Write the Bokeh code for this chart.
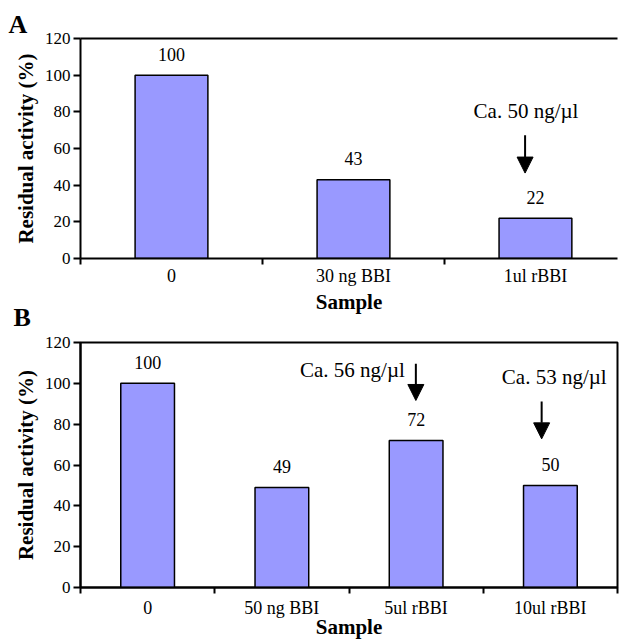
from bokeh.plotting import figure
from bokeh.models import FixedTicker, LinearAxis, Arrow, NormalHead, Range1d, Title
from bokeh.layouts import column
from bokeh.core.properties import value
from bokeh.embed import file_html
from bokeh.resources import INLINE

# ---- data ----
samples_a = ["0", "30 ng BBI", "1ul rBBI"]
activity_a = [100, 43, 22]
samples_b = ["0", "50 ng BBI", "5ul rBBI", "10ul rBBI"]
activity_b = [100, 49, 72, 50]
y_ticks = [0, 20, 40, 60, 80, 100, 120]

notes_a = ["Ca. 50 ng/\u00b5l"]
notes_b = ["Ca. 56 ng/\u00b5l", "Ca. 53 ng/\u00b5l"]

# annotation placement (data coordinates)
note_a_x = [2.448]
note_a_y = [76.4]
note_a_align = ["center"]
arrow_a = [(2.443, 67.2, 46.6)]
note_b_x = [2.416, 3.529]
note_b_y = [103.1, 99.5]
note_b_align = ["right", "center"]
arrow_b = [(2.498, 109.6, 91.6), (3.435, 91.1, 72.8)]

SERIF = "Liberation Serif"
BAR = "#9999FF"


def style(p, samples, tick_standoff, label_standoff):
    n = len(samples)
    centers = [i + 0.5 for i in range(n)]
    p.xgrid.visible = False
    p.ygrid.visible = False
    p.background_fill_color = "white"
    p.border_fill_color = "white"

    xa = p.xaxis[0]
    xa.ticker = FixedTicker(ticks=centers, minor_ticks=list(range(n + 1)))
    xa.major_label_overrides = {c: s for c, s in zip(centers, samples)}
    xa.major_tick_line_color = None
    xa.major_tick_out = 0
    xa.major_tick_in = 0
    xa.minor_tick_out = 6
    xa.minor_tick_in = 0
    xa.minor_tick_line_width = 2
    xa.minor_tick_line_color = "black"
    xa.axis_line_width = 2
    xa.axis_line_color = "black"
    xa.major_label_text_font = SERIF
    xa.major_label_text_font_size = "18px"
    xa.major_label_text_color = "black"
    xa.major_label_standoff = tick_standoff
    xa.axis_label = "Sample"
    xa.axis_label_text_font = SERIF
    xa.axis_label_text_font_style = "bold"
    xa.axis_label_text_font_size = "21px"
    xa.axis_label_text_color = "black"
    xa.axis_label_standoff = label_standoff

    ya = p.yaxis[0]
    ya.ticker = FixedTicker(ticks=y_ticks)
    ya.minor_tick_line_color = None
    ya.major_tick_out = 7
    ya.major_tick_in = 0
    ya.major_tick_line_width = 2
    ya.major_tick_line_color = "black"
    ya.axis_line_width = 2
    ya.axis_line_color = "black"
    ya.major_label_text_font = SERIF
    ya.major_label_text_font_size = "17px"
    ya.major_label_text_color = "black"
    ya.major_label_standoff = 3
    ya.axis_label = "Residual activity (%)"
    ya.axis_label_text_font = SERIF
    ya.axis_label_text_font_style = "bold"
    ya.axis_label_text_font_size = "21px"
    ya.axis_label_text_color = "black"
    ya.axis_label_standoff = 4
    return centers


def add_bars(p, centers, values):
    p.vbar(x=centers, bottom=0, top=values, width=0.4,
           fill_color=BAR, line_color="black", line_width=1.5)
    p.text(x=centers, y=values, text=[str(v) for v in values],
           text_align="center", text_baseline="alphabetic", y_offset=-21,
           text_font=value(SERIF), text_font_size="18px", text_color="black")


def add_notes(p, xs, ys, texts, aligns, arrows):
    for x, y, t, a in zip(xs, ys, texts, aligns):
        p.text(x=[x], y=[y], text=[t], text_align=a, text_baseline="alphabetic",
               y_offset=-7,
               text_font=value(SERIF), text_font_size="21px", text_color="black")
    for x, y0, y1 in arrows:
        p.add_layout(Arrow(end=NormalHead(size=16, fill_color="black", line_color="black"),
                           x_start=x, y_start=y0, x_end=x, y_end=y1,
                           line_width=2, line_color="black"))


def letter(p, text, offset, side, standoff, valign):
    t = Title(text=text, align="left", offset=offset, standoff=standoff,
              vertical_align=valign,
              text_font=SERIF, text_font_style="bold", text_font_size="26px",
              text_color="black")
    p.add_layout(t, side)


# ---- panel A (also carries the "B" panel letter below its axis) ----
pa = figure(width=620, height=331, output_backend="svg", toolbar_location=None,
            x_range=Range1d(0, 540 / 183), y_range=Range1d(0, 120),
            min_border_left=80, min_border_right=0, min_border_top=38, min_border_bottom=73)
pa.title.visible = False
pa.outline_line_color = None
ca = style(pa, samples_a, 1, 1)
add_bars(pa, ca, activity_a)
add_notes(pa, note_a_x, note_a_y, notes_a, note_a_align, arrow_a)
top = LinearAxis(ticker=FixedTicker(ticks=[]), major_label_text_font_size="0px",
                 axis_line_width=2, axis_line_color="black",
                 major_tick_line_color=None, minor_tick_line_color=None,
                 major_tick_out=0, minor_tick_out=0, major_label_standoff=0)
pa.add_layout(top, "above")
letter(pa, "A", -72, "above", 0, "bottom")
letter(pa, "B", -67, "below", -28, "top")

# ---- panel B ----
pb = figure(width=620, height=310, output_backend="svg", toolbar_location=None,
            x_range=Range1d(0, 4), y_range=Range1d(0, 120),
            min_border_left=79, min_border_right=3, min_border_top=11, min_border_bottom=54)
pb.title.visible = False
pb.outline_line_color = "black"
pb.outline_line_width = 2
cb = style(pb, samples_b, 4, -6)
add_bars(pb, cb, activity_b)
add_notes(pb, note_b_x, note_b_y, notes_b, note_b_align, arrow_b)

layout = column(pa, pb)
open("out.html", "w").write(file_html(layout, INLINE))
